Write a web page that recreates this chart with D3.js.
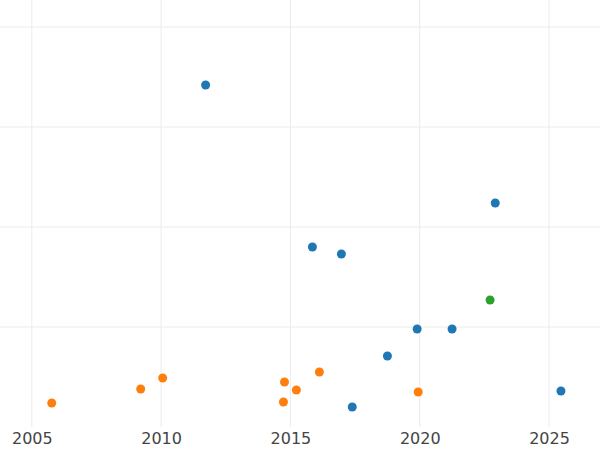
<!DOCTYPE html>
<html>
<head>
<meta charset="utf-8">
<script src="https://cdn.jsdelivr.net/npm/d3@7"></script>
<style>
  body { margin: 0; background: #fff; }
</style>
</head>
<body>
<svg id="chart" width="600" height="450"></svg>
<script>
// Scatter data
const blueX = [2011.72, 2022.92, 2015.85, 2016.97, 2019.90, 2021.25, 2018.75, 2017.39, 2025.46];
const blueY = [3.42, 2.24, 1.80, 1.73, 0.98, 0.98, 0.71, 0.20, 0.36];
const orangeX = [2005.77, 2009.21, 2010.06, 2014.77, 2014.73, 2015.23, 2016.12, 2019.94];
const orangeY = [0.24, 0.38, 0.49, 0.45, 0.25, 0.37, 0.55, 0.35];
const greenX = [2022.72];
const greenY = [1.27];
const xTicks = [2005, 2010, 2015, 2020, 2025];
const yTicks = [1, 2, 3, 4];

const series = [
  { xs: blueX, ys: blueY, color: '#1f77b4' },
  { xs: orangeX, ys: orangeY, color: '#ff7f0e' },
  { xs: greenX, ys: greenY, color: '#2ca02c' }
];

const width = 600, height = 450;
const plotBottom = 427;

const x = d3.scaleLinear().domain([2003.77, 2026.97]).range([0, width]);
const y = d3.scaleLinear().domain([0, 4]).range([plotBottom, 27]);

const svg = d3.select('#chart');

// gridlines
svg.append('g').selectAll('line')
  .data(yTicks).join('line')
  .attr('x1', 0).attr('x2', width)
  .attr('y1', d => y(d)).attr('y2', d => y(d))
  .attr('stroke', '#ebebeb').attr('stroke-width', 1);

svg.append('g').selectAll('line')
  .data(xTicks).join('line')
  .attr('x1', d => x(d)).attr('x2', d => x(d))
  .attr('y1', 0).attr('y2', plotBottom)
  .attr('stroke', '#ebebeb').attr('stroke-width', 1);

// x axis labels
const xAxis = d3.axisBottom(x).tickValues(xTicks).tickFormat(d3.format('d')).tickSize(0).tickPadding(6);
const gx = svg.append('g').attr('transform', `translate(0,${plotBottom})`).call(xAxis)
  .attr('font-family', '"DejaVu Sans", sans-serif');
gx.select('.domain').remove();
gx.selectAll('text').attr('font-size', 16).attr('fill', '#444');

// points
series.forEach(s => {
  svg.append('g').selectAll('circle')
    .data(s.xs.map((v, i) => [v, s.ys[i]])).join('circle')
    .attr('cx', d => x(d[0])).attr('cy', d => y(d[1]))
    .attr('r', 4.5).attr('fill', s.color);
});
</script>
</body>
</html>
